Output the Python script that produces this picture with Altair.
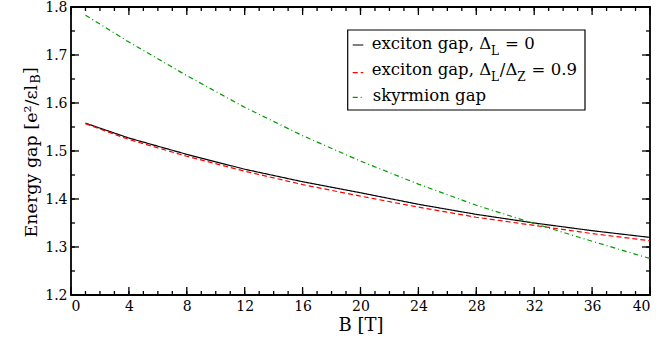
import altair as alt
import pandas as pd

# ---------------- data ----------------
B = [1, 4, 8, 12, 16, 20, 24, 28, 32, 36, 40]
exciton_0 = [1.558, 1.527, 1.493, 1.462, 1.436, 1.413, 1.389, 1.368, 1.350, 1.334, 1.320]
exciton_09 = [1.557, 1.524, 1.489, 1.458, 1.430, 1.406, 1.383, 1.362, 1.345, 1.328, 1.313]
skyrmion = [1.783, 1.727, 1.657, 1.591, 1.532, 1.479, 1.431, 1.387, 1.349, 1.312, 1.276]

series_names = ["exciton0", "exciton09", "skyrmion"]
series_colors = ["#000000", "#ff0000", "#009a00"]
series_dash = [[1, 0], [5, 3], [5, 3, 1, 3]]

x_major = list(range(0, 41, 4))
x_minor = list(range(0, 41, 1))
y_major = [1.2, 1.3, 1.4, 1.5, 1.6, 1.7, 1.8]
y_minor = [1.2 + 0.05 * i for i in range(13)]

W, H = 579, 288
FONT = "DejaVu Serif"

# approximate DejaVu Serif advance widths (em) used to place sub/superscript pieces
ADV = {"E": .730, "n": .644, "e": .592, "r": .478, "g": .635, "y": .565, " ": .318,
       "a": .596, "p": .640, "[": .390, "]": .390, "²": .40, "/": .337, "ε": .55,
       "l": .320, "B": .732, "x": .564, "c": .560, "i": .320, "t": .402, "o": .602,
       ",": .318, "Δ": .722, "=": .838, "0": .636, ".": .318, "9": .636, "L": .653,
       "Z": .667, "s": .513, "k": .617, "m": .948}

def tw(s, size):
    return sum(ADV.get(ch, 0.6) for ch in s) * size

rows = []
for name, vals in zip(series_names, [exciton_0, exciton_09, skyrmion]):
    for b, v in zip(B, vals):
        rows.append({"B": b, "E": v, "s": name})
df = pd.DataFrame(rows)

xs = alt.Scale(domain=[0, 40], nice=False, zero=False)
ys = alt.Scale(domain=[1.2, 1.8], nice=False, zero=False)

# y axis title (rotated, reading bottom to top); subscript and bracket added as text
TS, TSS = 17.5, 12.5
main_t = "Energy gap [e²/εl"
y0 = 230
y_b = y0 - tw(main_t, TS) - 0.5
y_br = y_b - tw("B", TSS) - 0.5

x_axis = alt.Axis(
    values=x_major, format="d", ticks=False, domain=False, grid=False,
    labelFont=FONT, labelFontSize=14, labelColor="black", labelPadding=4,
    title="B [T]", titleFont=FONT, titleFontSize=18, titleFontWeight="normal",
    titleColor="black", titlePadding=3)
y_axis = alt.Axis(
    values=y_major, format=".1f", ticks=False, domain=False, grid=False,
    labelFont=FONT, labelFontSize=14, labelColor="black", labelPadding=4,
    title=main_t, titleFont=FONT, titleFontSize=TS, titleFontWeight="normal",
    titleColor="black", titleX=-35, titleY=y0, titleAngle=270,
    titleAlign="left", titleBaseline="alphabetic")

lines = alt.Chart(df).mark_line(strokeWidth=1.2, clip=True).encode(
    x=alt.X("B:Q", scale=xs, axis=x_axis),
    y=alt.Y("E:Q", scale=ys, axis=y_axis),
    color=alt.Color("s:N", scale=alt.Scale(domain=series_names, range=series_colors), legend=None),
    strokeDash=alt.StrokeDash("s:N", scale=alt.Scale(domain=series_names, range=series_dash), legend=None),
)

def tick_layer(vals, channel, length, side):
    d = pd.DataFrame({"v": vals})
    if channel == "x":
        if side == "bottom":
            enc = dict(y=alt.value(H), y2=alt.value(H - length))
        else:
            enc = dict(y=alt.value(0), y2=alt.value(length))
        return alt.Chart(d).mark_rule(color="black", strokeWidth=1.3).encode(
            x=alt.X("v:Q", scale=xs, axis=x_axis), **enc)
    else:
        if side == "left":
            enc = dict(x=alt.value(0), x2=alt.value(length))
        else:
            enc = dict(x=alt.value(W), x2=alt.value(W - length))
        return alt.Chart(d).mark_rule(color="black", strokeWidth=1.3).encode(
            y=alt.Y("v:Q", scale=ys, axis=y_axis), **enc)

ticks = [
    tick_layer(x_minor, "x", 4, "bottom"), tick_layer(x_major, "x", 8, "bottom"),
    tick_layer(x_minor, "x", 4, "top"), tick_layer(x_major, "x", 8, "top"),
    tick_layer(y_minor, "y", 4, "left"), tick_layer(y_major, "y", 8, "left"),
    tick_layer(y_minor, "y", 4, "right"), tick_layer(y_major, "y", 8, "right"),
]

one = pd.DataFrame({"k": [0]})

def txt(s, x, y, size, angle=0):
    return alt.Chart(one).mark_text(
        font=FONT, fontSize=size, color="black", align="left",
        baseline="alphabetic", angle=angle).encode(
        x=alt.value(x), y=alt.value(y), text=alt.value(s))

# legend
LS, SS = 16.5, 12
legend_box = alt.Chart(one).mark_rect(fill="white", stroke="black", strokeWidth=1.2).encode(
    x=alt.value(276.7), x2=alt.value(514), y=alt.value(23), y2=alt.value(103))
leg_lines = []
for c, dsh, yy in zip(series_colors, series_dash, [38, 65.7, 90.3]):
    leg_lines.append(alt.Chart(one).mark_rule(color=c, strokeDash=dsh, strokeWidth=1.2).encode(
        x=alt.value(281.7), x2=alt.value(292.3), y=alt.value(yy)))

def legend_row(pieces, x0, base):
    out = []
    x = x0
    for s, sub in pieces:
        size = SS if sub else LS
        out.append(txt(s.strip(), x + (tw(" ", size) if s.startswith(" ") else 0),
                       base + (6 if sub else 0), size))
        x += tw(s, size) + (1 if sub else 0)
    return out

leg_text = (
    legend_row([("exciton gap, Δ", False), ("L", True), (" = 0", False)], 300.7, 42.3)
    + legend_row([("exciton gap, Δ", False), ("L", True), ("/Δ", False), ("Z", True), (" = 0.9", False)], 300.7, 68)
    + legend_row([("skyrmion gap", False)], 301.7, 93.7)
)

ytitle = [
    txt("B", -31, y_b, TSS, 270),
    txt("]", -35, y_br, TS, 270),
]

chart = alt.layer(lines, *ticks, legend_box, *leg_lines, *leg_text, *ytitle).properties(
    width=W, height=H,
    autosize=alt.AutoSizeParams(type="none"),
    padding={"left": 71, "top": 7, "right": 10, "bottom": 44},
    background="white",
).configure(font=FONT).configure_text(font=FONT).configure_view(stroke="black", strokeWidth=1.8)

chart.save("out.html", embed_options={"renderer": "svg", "actions": False})
